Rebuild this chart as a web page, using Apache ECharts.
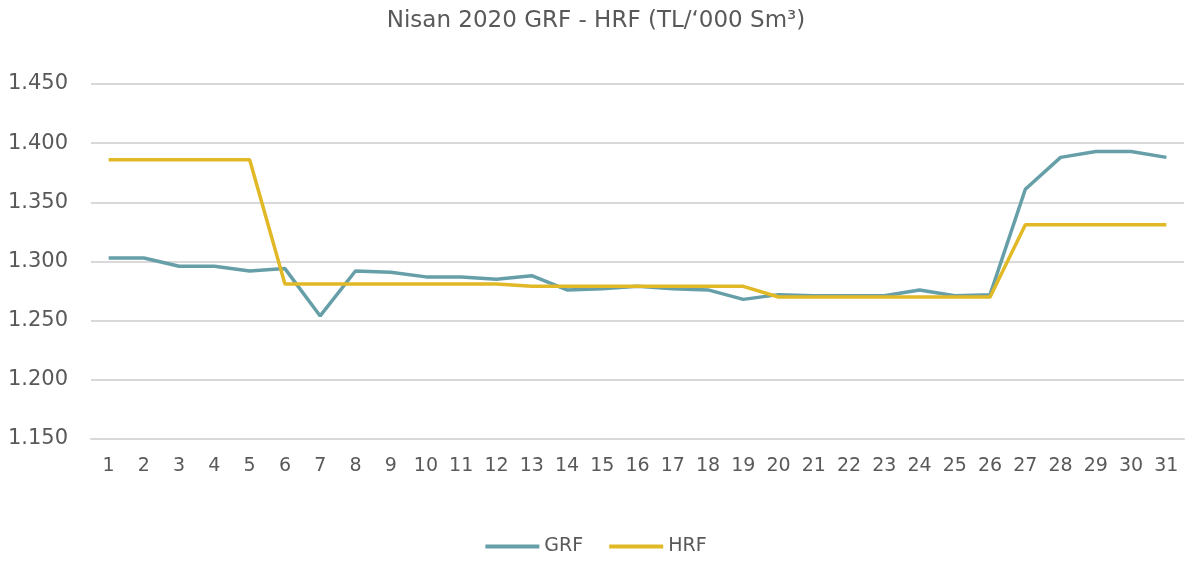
<!DOCTYPE html>
<html><head><meta charset="utf-8">
<script src="https://cdn.jsdelivr.net/npm/echarts@6/dist/echarts.min.js"></script>
<style>html,body{margin:0;padding:0;background:#fff}#c{width:1192px;height:562px}</style>
</head><body><div id="c"></div>
<script>
const days = ['1','2','3','4','5','6','7','8','9','10','11','12','13','14','15','16','17','18','19','20','21','22','23','24','25','26','27','28','29','30','31'];
const grf = [1303,1303,1296,1296,1292,1294,1254,1292,1291,1287,1287,1285,1288,1276,1277,1279,1277,1276,1268,1272,1271,1271,1271,1276,1271,1272,1361,1388,1393,1393,1388];
const hrf = [1386,1386,1386,1386,1386,1281,1281,1281,1281,1281,1281,1281,1279,1279,1279,1279,1279,1279,1279,1270,1270,1270,1270,1270,1270,1270,1331,1331,1331,1331,1331];
const yMin = 1150, yMax = 1450, yStep = 50;
const fmt = v => { const s = String(Math.round(v)); return s.slice(0, s.length-3) + '.' + s.slice(-3); };
const font = '"DejaVu Sans", sans-serif';
const chart = echarts.init(document.getElementById('c'));
chart.setOption({
  animation: false,
  title: { text: 'Nisan 2020 GRF - HRF (TL/‘000 Sm³)', left: 'center', top: 5,
    textStyle: { fontFamily: font, fontSize: 23, fontWeight: 'normal', color: '#595959' } },
  grid: { left: 91, right: 8, top: 84, bottom: 123 },
  legend: { bottom: 1, left: 'center', itemWidth: 54, itemHeight: 4, itemGap: 26, icon: 'rect',
    textStyle: { fontFamily: font, fontSize: 19, color: '#595959' },
    data: ['GRF', 'HRF'] },
  xAxis: { type: 'category', data: days, boundaryGap: true,
    axisLine: { show: true, lineStyle: { color: '#d9d9d9', width: 2 } },
    axisTick: { show: false },
    axisLabel: { fontFamily: font, fontSize: 19, color: '#595959', margin: 18, interval: 0 } },
  yAxis: { type: 'value', min: yMin, max: yMax, interval: yStep,
    axisLine: { show: false }, axisTick: { show: false },
    splitLine: { lineStyle: { color: '#d9d9d9', width: 2 } },
    axisLabel: { fontFamily: font, fontSize: 21, color: '#595959', margin: 23, formatter: fmt } },
  series: [
    { name: 'GRF', type: 'line', data: grf, symbol: 'none', lineStyle: { color: '#669fa8', width: 3.5 }, itemStyle: { color: '#669fa8' } },
    { name: 'HRF', type: 'line', data: hrf, symbol: 'none', lineStyle: { color: '#e1b927', width: 3.5 }, itemStyle: { color: '#e1b927' } }
  ]
});
</script></body></html>
